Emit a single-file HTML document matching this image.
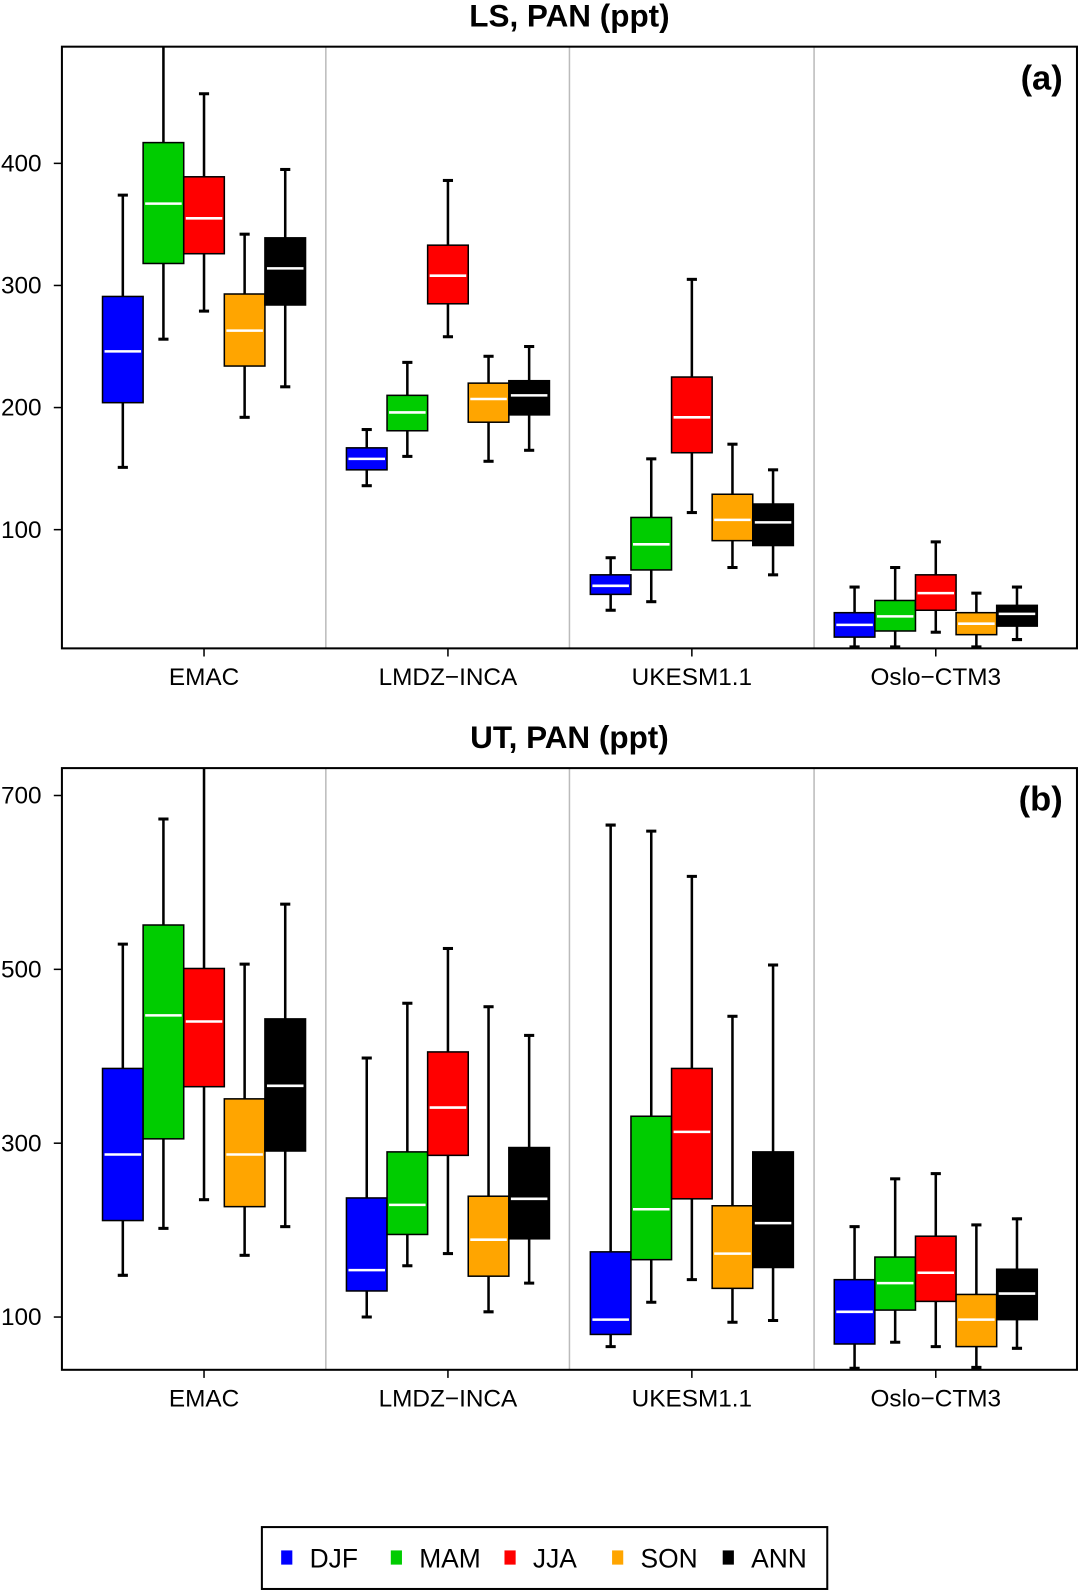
<!DOCTYPE html>
<html><head><meta charset="utf-8"><style>html,body{margin:0;padding:0;background:#fff}svg{display:block}text{font-family:"Liberation Sans",Arial,sans-serif}</style></head>
<body>
<svg id="chart" width="1079" height="1591" viewBox="0 0 1063 1568" preserveAspectRatio="none" xmlns="http://www.w3.org/2000/svg"></svg>
<script>
const models = ["EMAC","LMDZ\u2212INCA","UKESM1.1","Oslo\u2212CTM3"];
const seasons = ["DJF","MAM","JJA","SON","ANN"];
const colors = ["#0000ff","#00cc00","#ff0000","#ffa500","#000000"];
// [low whisker, q1, median, q3, high whisker] per model, per season
const lsData = [
 [[151,204,246,291,374],[256,318,367,417,520],[279,326,355,389,457],[192,234,263,293,342],[217,284,314,339,395]],
 [[136,149,158,167,182],[160,181,196,210,237],[258,285,308,333,386],[156,188,207,220,242],[165,194,210,222,250]],
 [[34,47,54,63,77],[41,67,88,110,158],[114,163,192,225,305],[69,91,108,129,170],[63,87,106,121,149]],
 [[4,12,22,32,53],[4,17,29,42,69],[16,34,48,63,90],[4,14,23,32,48],[10,21,31,38,53]]
];
const utData = [
 [[148,211,287,386,529],[202,305,447,551,673],[235,365,440,501,760],[171,227,287,351,506],[204,291,366,443,575]],
 [[100,130,154,237,398],[159,195,229,290,461],[173,286,341,405,524],[106,147,189,239,457],[139,190,236,295,424]],
 [[66,80,97,175,666],[117,166,224,331,659],[143,236,313,386,607],[94,133,173,228,446],[96,157,208,290,505]],
 [[41,69,106,143,204],[71,108,139,169,259],[66,118,151,193,265],[42,66,97,126,206],[64,97,127,155,213]]
];
const lsTicks = [100,200,300,400];
const utTicks = [100,300,500,700];

const svg = document.getElementById('chart');
const NS = "http://www.w3.org/2000/svg";
function mk(tag, attrs, parent){const e=document.createElementNS(NS,tag);for(const k in attrs)e.setAttribute(k,attrs[k]);(parent||svg).appendChild(e);return e;}

function panel(key, title, label, data, ticks, top, bottom, yv1, yp1, yv2, yp2){
  const L=61,R=1061;
  const y = v => yp1 + (v-yv1)*(yp2-yp1)/(yv2-yv1);
  const g = mk('g',{});
  
  
  const cp = mk('clipPath',{id:'clip-'+key},g);
  mk('rect',{x:L,y:top,width:R-L,height:bottom-top},cp);
  const t = mk('text',{x:561,y:top-20,'text-anchor':'middle','font-size':31,'font-weight':'bold'},g);
  t.textContent = title;
  
  
  [321,561,802].forEach(x=>{
    const d = mk('line',{x1:x,x2:x,y1:top,y2:bottom,stroke:'#bbbbbb','stroke-width':1.5},g);
    
    
  });
  const marks = mk('g',{'clip-path':'url(#clip-'+key+')'},g);
  models.forEach((m,i)=>{
    const gc = 201 + i*240.3;
    data[i].forEach((s,j)=>{
      const cx = gc + (j-2)*40, w=40;
      const bg = mk('g',{},marks);
      
      
      mk('line',{x1:cx,x2:cx,y1:y(s[0]),y2:y(s[4]),stroke:'#000','stroke-width':2.5},bg);
      mk('line',{x1:cx-5,x2:cx+5,y1:y(s[0]),y2:y(s[0]),stroke:'#000','stroke-width':3},bg);
      mk('line',{x1:cx-5,x2:cx+5,y1:y(s[4]),y2:y(s[4]),stroke:'#000','stroke-width':3},bg);
      mk('rect',{x:cx-w/2,y:y(s[3]),width:w,height:y(s[1])-y(s[3]),fill:colors[j],stroke:'#000','stroke-width':1.5},bg);
      mk('line',{x1:cx-w/2+2,x2:cx+w/2-2,y1:y(s[2]),y2:y(s[2]),stroke:'#fff','stroke-width':2.5},bg);
    });
    mk('line',{x1:gc,x2:gc,y1:bottom,y2:bottom+8,stroke:'#000','stroke-width':1.5},g);
    const xl = mk('text',{x:gc,y:bottom+36,'text-anchor':'middle','font-size':24},g);
    xl.textContent = m;
    
    
  });
  ticks.forEach(v=>{
    mk('line',{x1:L-8,x2:L,y1:y(v),y2:y(v),stroke:'#000','stroke-width':1.5},g);
    const tl = mk('text',{x:41,y:y(v)+8,'text-anchor':'end','font-size':24},g);
    tl.textContent = v;
    
    
  });
  const fr = mk('rect',{x:L,y:top,width:R-L,height:bottom-top,fill:'none',stroke:'#000','stroke-width':2},g);
  
  
  const pl = mk('text',{x:1047,y:top+42,'text-anchor':'end','font-size':34,'font-weight':'bold'},g);
  pl.textContent = label;
  
  
}
panel('ls','LS, PAN (ppt)','(a)',lsData,lsTicks,46,639,400,161,100,522);
panel('ut','UT, PAN (ppt)','(b)',utData,utTicks,757,1350,700,784,100,1298);

const lg = mk('g',{});


mk('rect',{x:258,y:1505,width:557,height:61,fill:'#fff',stroke:'#000','stroke-width':2},lg);
const lx=[277,385,497,603,712];
seasons.forEach((s,j)=>{
  const e = mk('g',{},lg);
  
  
  mk('rect',{x:lx[j],y:1528,width:11,height:14,fill:colors[j]},e);
  const t = mk('text',{x:lx[j]+28,y:1545,'font-size':26},e);
  t.textContent = s;
});
</script>
</body></html>
